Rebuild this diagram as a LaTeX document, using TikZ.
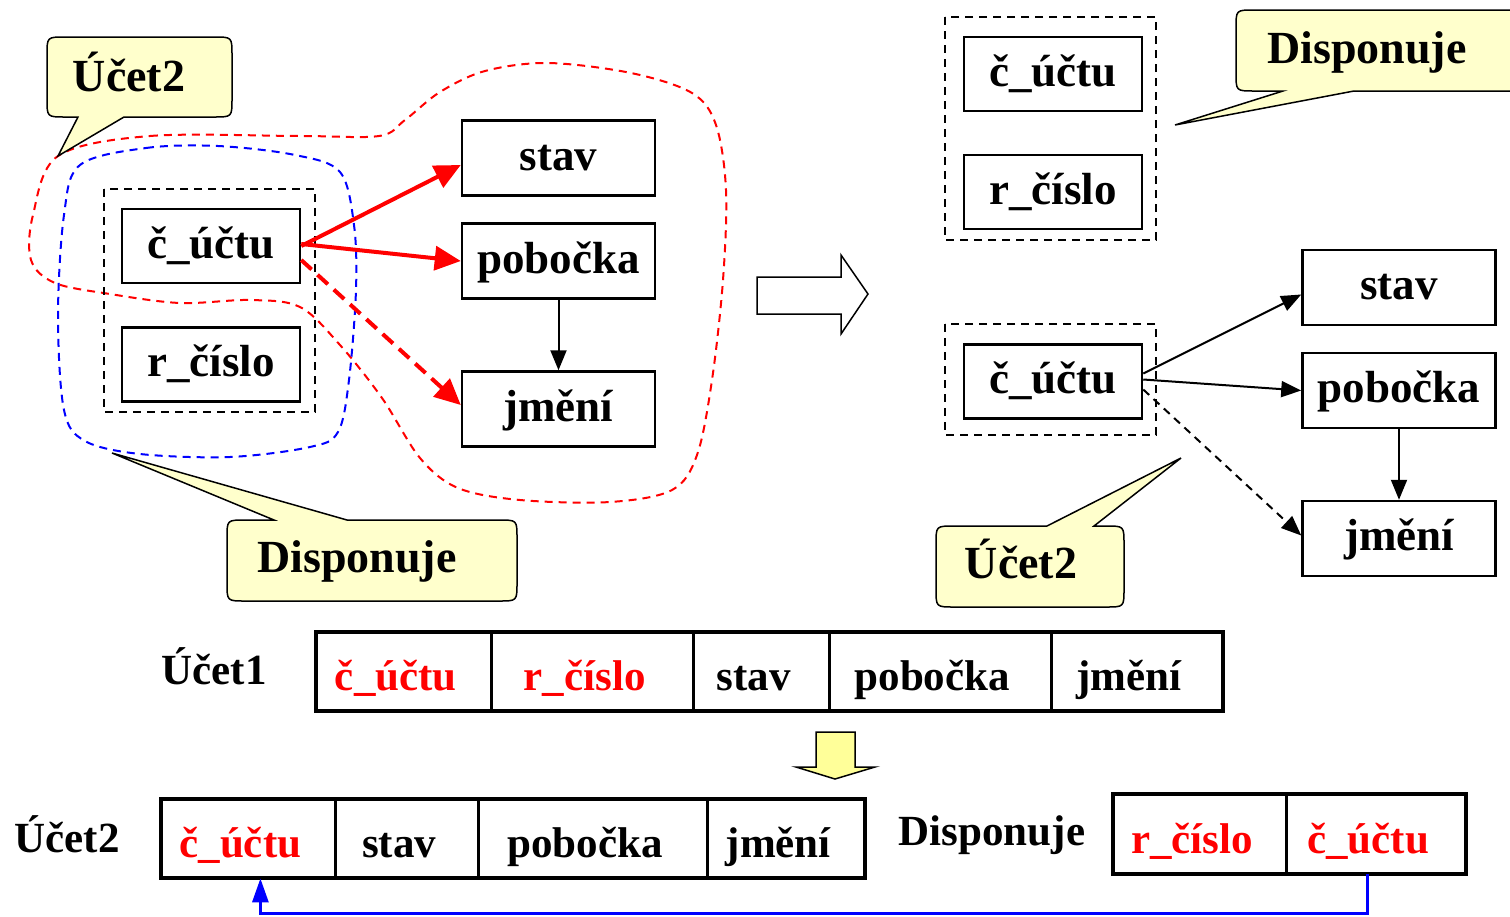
\documentclass[tikz,border=0pt]{standalone}
\usepackage{fontspec}
\setmainfont{Liberation Serif}
\usetikzlibrary{arrows.meta,positioning}
\definecolor{calloutfill}{HTML}{FFFFCC}
\definecolor{arrowfill}{HTML}{FFFF99}
\tikzset{
  attr/.style={draw, line width=1.25pt, fill=white, minimum width=89pt, minimum height=37pt,
    inner sep=0pt, text height=17pt, text depth=5pt, font=\bfseries\fontsize{22.5}{27}\selectfont},
  attrwide/.style={attr, minimum width=96.5pt, minimum height=37.5pt},
  keyframe/.style={line width=1pt, dash pattern=on 4pt off 3pt},
  callout/.style={draw, fill=calloutfill, line width=0.75pt},
  calltext/.style={anchor=base, inner sep=0pt, font=\bfseries\fontsize{23}{27}\selectfont},
  cell/.style={minimum height=39.5pt, inner sep=0pt, text height=22pt, text depth=3pt,
    font=\bfseries\fontsize{21.5}{26}\selectfont, execute at begin node=\hspace*{-8pt}},
  rowlabel/.style={anchor=base, inner sep=0pt, font=\bfseries\fontsize{21.5}{26}\selectfont},
  redarrow/.style={red, line width=2pt, -{Triangle[length=13pt,width=12pt]}},
  thinarrow/.style={line width=1pt, -{Triangle[length=10pt,width=8pt]}},
}
\begin{document}
\begin{tikzpicture}[x=0.5pt, y=-0.5pt]
\clip (0,0) rectangle (1510,916);
% obrysy
\draw[red, line width=1pt, dash pattern=on 4pt off 3pt] plot[smooth cycle, tension=0.55] coordinates {
  (58,156) (150,136) (300,136) (379,136) (405,120) (440,92) (485,71) (548,63) (631,73)
  (692,93) (716,125) (726,190) (723,280) (712,380) (697,455) (672,490) (610,502) (520,500)
  (458,488) (420,458) (382,398) (340,345) (300,307) (250,300) (180,303) (110,294)
  (55,283) (31,260) (33,215)};
\draw[blue, line width=1pt, dash pattern=on 4pt off 3pt] plot[smooth cycle, tension=0.55] coordinates {
  (80,165) (146,148) (218,146) (295,155) (340,172) (354,225) (356,290) (349,380) (338,432)
  (310,447) (230,457) (140,454) (85,441) (64,410) (58,316) (64,215)};
% vlevo
\draw[keyframe] (104,189) rectangle (315,412);
\node[attr] (cu1) at (211,246) {č\_účtu};
\node[attr] (rc1) at (211,364.5) {r\_číslo};
\node[attrwide] (stav1) at (558.5,158) {stav};
\node[attrwide] (pob1) at (558.5,261) {pobočka};
\node[attrwide] (jm1) at (558.5,409) {jmění};
\draw[redarrow] (cu1.east) -- ([yshift=-3.5pt]stav1.west);
\draw[redarrow] ([yshift=1pt]cu1.east) -- (pob1.west);
\draw[redarrow, dash pattern=on 7pt off 4pt] ([yshift=-7pt]cu1.east) -- ([yshift=2pt]jm1.west);
\draw[thinarrow] (pob1.south) -- (jm1.north);
% bubliny vlevo
\path[callout] (78,117) -- (58,156) -- (124,117) -- (214,117) .. controls (232,117) .. (232,99)
  -- (232,55) .. controls (232,37) .. (214,37) -- (65,37) .. controls (47,37) .. (47,55)
  -- (47,99) .. controls (47,117) .. (65,117) -- cycle;
\node[calltext] (co1) at (129,91) {Účet2};
\path[callout] (274,520) -- (112,453) -- (347,520) -- (499,520) .. controls (517,520) .. (517,538)
  -- (517,583) .. controls (517,601) .. (499,601) -- (245,601) .. controls (227,601) .. (227,583)
  -- (227,538) .. controls (227,520) .. (245,520) -- cycle;
\node[calltext] (co2) at (357,572) {Disponuje};
% sipka
\draw[fill=white, line width=0.75pt] (757,277) -- (841,277) -- (841,255) -- (868,294) -- (841,334)
  -- (841,314) -- (757,314) -- cycle;
% vpravo
\draw[keyframe] (945,17) rectangle (1156,240);
\node[attr] (cu2) at (1053,74) {č\_účtu};
\node[attr] (rc2) at (1053,192) {r\_číslo};
\draw[keyframe] (945,324) rectangle (1156,435);
\node[attr] (cu3) at (1053,381.5) {č\_účtu};
\node[attrwide] (stav2) at (1399,287.5) {stav};
\node[attrwide] (pob2) at (1399,390.5) {pobočka};
\node[attrwide] (jm2) at (1399,538.5) {jmění};
\draw[thinarrow] ([yshift=4pt]cu3.east) -- ([yshift=-3.5pt]stav2.west);
\draw[thinarrow] ([yshift=1pt]cu3.east) -- (pob2.west);
\draw[thinarrow, dash pattern=on 4pt off 3pt] ([yshift=-4pt]cu3.east) -- ([yshift=1.5pt]jm2.west);
\draw[thinarrow] (pob2.south) -- (jm2.north);
% bubliny vpravo
\path[callout] (1354,91) -- (1175,125) -- (1283,91) -- (1254,91) .. controls (1236,91) .. (1236,73)
  -- (1236,28) .. controls (1236,10) .. (1254,10) -- (1530,10) -- (1530,91) -- cycle;
\node[calltext] (co3) at (1367,63) {Disponuje};
\path[callout] (1047,526) -- (1181,458) -- (1094,526) -- (1106,526) .. controls (1124,526) .. (1124,544)
  -- (1124,589) .. controls (1124,607) .. (1106,607) -- (954,607) .. controls (936,607) .. (936,589)
  -- (936,544) .. controls (936,526) .. (954,526) -- cycle;
\node[calltext] (co4) at (1021,578) {Účet2};
% tabulka Ucet1
\node[rowlabel] (lab1) at (214,684) {Účet1};
\node[cell, minimum width=87.5pt, anchor=west, text=red] (a1) at (316,671.5) {č\_účtu};
\node[cell, minimum width=100.5pt, right=0pt of a1, text=red] (a2) {r\_číslo};
\node[cell, minimum width=67.5pt, right=0pt of a2] (a3) {stav};
\node[cell, minimum width=110.5pt, right=0pt of a3] (a4) {pobočka};
\node[cell, minimum width=85.5pt, right=0pt of a4] (a5) {jmění};
\draw[line width=2pt] (a1.north west) rectangle (a5.south east);
\foreach \c in {a1,a2,a3,a4}
  \draw[line width=1.5pt] (\c.north east) -- (\c.south east);
% sipka dolu
\draw[fill=arrowfill, line width=0.75pt] (816,732) -- (855,732) -- (855,767) -- (875,767) -- (835,779)
  -- (796,767) -- (816,767) -- cycle;
% tabulka Ucet2
\node[rowlabel] (lab2) at (67,852) {Účet2};
\node[cell, minimum width=87pt, anchor=west, text=red] (b1) at (161,838.5) {č\_účtu};
\node[cell, minimum width=71pt, right=0pt of b1] (b2) {stav};
\node[cell, minimum width=114pt, right=0pt of b2] (b3) {pobočka};
\node[cell, minimum width=78.5pt, right=0pt of b3] (b4) {jmění};
\draw[line width=2pt] (b1.north west) rectangle (b4.south east);
\foreach \c in {b1,b2,b3}
  \draw[line width=1.5pt] (\c.north east) -- (\c.south east);
% tabulka Disponuje
\node[rowlabel] (lab3) at (992,845) {Disponuje};
\node[cell, minimum width=86.5pt, anchor=west, text=red] (d1) at (1113,834) {r\_číslo};
\node[cell, minimum width=89pt, right=0pt of d1, text=red] (d2) {č\_účtu};
\draw[line width=2pt] (d1.north west) rectangle (d2.south east);
\draw[line width=1.5pt] (d1.north east) -- (d1.south east);
% cizi klic
\draw[blue, line width=1.5pt, -{Triangle[length=12pt,width=8pt]}]
  ([xshift=-4.5pt]d2.south) -- ++(0,40) -| ([xshift=6pt]b1.south);
\end{tikzpicture}
\end{document}
